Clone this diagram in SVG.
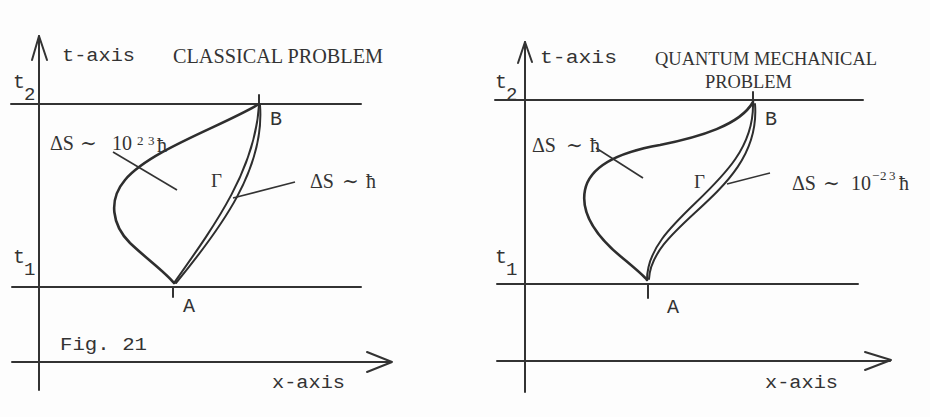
<svg xmlns="http://www.w3.org/2000/svg" width="930" height="417" viewBox="0 0 930 417">
<style>
.ax{stroke:#333;stroke-width:2;fill:none;stroke-linecap:round;stroke-linejoin:round}
.cv{stroke:#2e2e2e;stroke-width:2.6;fill:none;stroke-linecap:round}
.dl{stroke:#2e2e2e;stroke-width:2;fill:none;stroke-linecap:round}
.ptr{stroke:#333;stroke-width:1.6;fill:none}
.mono{font-family:"Liberation Mono","DejaVu Sans Mono",monospace;fill:#333}
.ser{font-family:"Liberation Serif","DejaVu Serif",serif;fill:#333}
</style>
<rect width="930" height="417" fill="#fdfdfd"/>

<g id="classical">
  <g id="axes-left">
    <line class="ax" x1="39" y1="36" x2="39" y2="390"/>
    <polyline class="ax" points="32,60 39,36 47,60"/>
    <line class="ax" x1="12" y1="362" x2="390" y2="362"/>
    <polyline class="ax" points="367,352 392,362 367,372"/>
    <line class="ax" x1="11" y1="104" x2="361" y2="104"/>
    <line class="ax" x1="12" y1="287" x2="361" y2="287"/>
    <line class="ax" x1="259" y1="95" x2="259" y2="104"/>
    <line class="ax" x1="173" y1="287" x2="173" y2="297"/>
  </g>
  <g id="curves-left">
    <path class="cv" d="M259,104 C225,125 150,150 125,180 C108,200 112,225 130,243 C148,260 165,272 174,283"/>
    <path class="dl" d="M174,283 C215,225 255,170 259,105"/>
    <path class="dl" d="M176,283 C222,227 265,168 260,105"/>
  </g>
  <g id="pointers-left">
    <line class="ptr" x1="113" y1="152" x2="177" y2="190"/>
    <line class="ptr" x1="295" y1="182" x2="233" y2="198"/>
  </g>
  <g id="labels-left">
    <text class="mono" x="62" y="61" font-size="19" textLength="73" lengthAdjust="spacingAndGlyphs">t-axis</text>
    <text class="ser" x="173" y="63" font-size="20" textLength="210" lengthAdjust="spacingAndGlyphs">CLASSICAL PROBLEM</text>
    <text class="mono" x="13" y="88" font-size="20">t</text>
    <text class="mono" x="24" y="100" font-size="19">2</text>
    <text class="mono" x="13" y="263" font-size="20">t</text>
    <text class="mono" x="24" y="275" font-size="19">1</text>
    <text class="mono" x="270" y="125" font-size="20">B</text>
    <text class="mono" x="183" y="312" font-size="20">A</text>
    <text class="ser" x="211" y="187" font-size="19">Γ</text>
    <text class="mono" x="60" y="350" font-size="19" textLength="87" lengthAdjust="spacingAndGlyphs">Fig. 21</text>
    <text class="mono" x="272" y="388" font-size="19" textLength="73" lengthAdjust="spacingAndGlyphs">x-axis</text>
    <text class="ser" font-size="20"><tspan x="50" y="150">ΔS</tspan><tspan x="80" y="150">∼</tspan><tspan x="112" y="150">10</tspan><tspan x="137" y="145" font-size="13">2</tspan><tspan x="148" y="145" font-size="13">3</tspan><tspan x="157" y="152">ħ</tspan></text>
    <text class="ser" font-size="20"><tspan x="310" y="188">ΔS</tspan><tspan x="342" y="188">∼</tspan><tspan x="366" y="188">ħ</tspan></text>
  </g>
</g>

<g id="quantum">
  <g id="axes-right">
    <line class="ax" x1="525" y1="42" x2="525" y2="392"/>
    <polyline class="ax" points="518,63 525,42 532,62"/>
    <line class="ax" x1="497" y1="361" x2="890" y2="361"/>
    <polyline class="ax" points="865,352 891,360 865,370"/>
    <line class="ax" x1="495" y1="100" x2="863" y2="100"/>
    <line class="ax" x1="497" y1="284" x2="858" y2="284"/>
    <line class="ax" x1="753" y1="92" x2="753" y2="101"/>
    <line class="ax" x1="648" y1="284" x2="648" y2="298"/>
  </g>
  <g id="curves-right">
    <path class="cv" d="M753,102 C740,125 700,137 660,145 C620,152 590,165 585,190 C580,215 600,240 625,260 C637,270 645,277 647,280"/>
    <path class="dl" d="M647,280 C647,215 755,185 753,103"/>
    <path class="dl" d="M649,279 C652,221 762,192 755,104"/>
  </g>
  <g id="pointers-right">
    <line class="ptr" x1="596" y1="148" x2="643" y2="178"/>
    <line class="ptr" x1="770" y1="173" x2="727" y2="184"/>
  </g>
  <g id="labels-right">
    <text class="mono" x="540" y="63" font-size="19" textLength="77" lengthAdjust="spacingAndGlyphs">t-axis</text>
    <text class="ser" x="655" y="65" font-size="18" textLength="222" lengthAdjust="spacingAndGlyphs">QUANTUM MECHANICAL</text>
    <text class="ser" x="705" y="88" font-size="18" textLength="87" lengthAdjust="spacingAndGlyphs">PROBLEM</text>
    <text class="mono" x="495" y="88" font-size="20">t</text>
    <text class="mono" x="506" y="100" font-size="19">2</text>
    <text class="mono" x="495" y="263" font-size="20">t</text>
    <text class="mono" x="506" y="275" font-size="19">1</text>
    <text class="mono" x="765" y="125" font-size="20">B</text>
    <text class="mono" x="667" y="313" font-size="20">A</text>
    <text class="ser" x="694" y="188" font-size="19">Γ</text>
    <text class="mono" x="765" y="388" font-size="19" textLength="73" lengthAdjust="spacingAndGlyphs">x-axis</text>
    <text class="ser" font-size="20"><tspan x="532" y="152">ΔS</tspan><tspan x="566" y="152">∼</tspan><tspan x="590" y="152">ħ</tspan></text>
    <text class="ser" font-size="20"><tspan x="792" y="190">ΔS</tspan><tspan x="823" y="190">∼</tspan><tspan x="851" y="190">10</tspan><tspan x="872" y="180" font-size="13">−</tspan><tspan x="880" y="180" font-size="13">2</tspan><tspan x="889" y="180" font-size="13">3</tspan><tspan x="899" y="190">ħ</tspan></text>
  </g>
</g>
</svg>
